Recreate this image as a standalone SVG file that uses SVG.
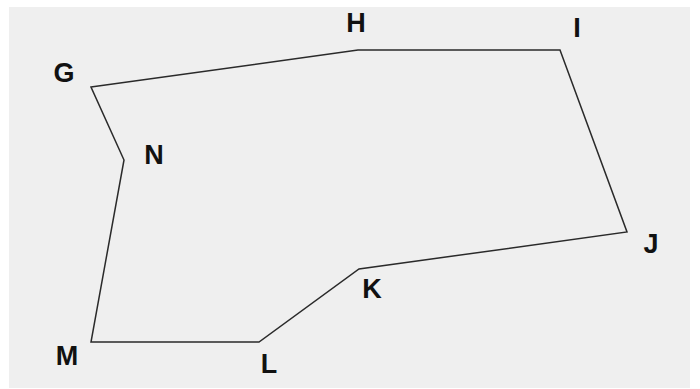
<svg xmlns="http://www.w3.org/2000/svg" width="700" height="389" viewBox="0 0 700 389">
<style>
.lbl{font-family:"Liberation Sans",Arial,sans-serif;font-weight:bold;font-size:27px;fill:#111;text-anchor:middle}
.edge{fill:none;stroke:#2a2a2a;stroke-width:1.5;stroke-linejoin:miter}
</style>
<rect x="0" y="0" width="700" height="389" fill="#ffffff"/>
<rect x="9" y="7" width="681" height="381" fill="#efefef"/>
<g id="connectors">
<polygon class="edge" points="91,87 358,50 560,50 627,232 359,269 259,342 91,342 124,160"/>
</g>
<g id="G"><text class="lbl" x="64" y="82">G</text></g>
<g id="H"><text class="lbl" x="356" y="32">H</text></g>
<g id="I"><text class="lbl" x="577" y="37">I</text></g>
<g id="J"><text class="lbl" x="651" y="253">J</text></g>
<g id="K"><text class="lbl" x="372" y="298">K</text></g>
<g id="L"><text class="lbl" x="269" y="373">L</text></g>
<g id="M"><text class="lbl" x="67" y="365">M</text></g>
<g id="N"><text class="lbl" x="154" y="164">N</text></g>
</svg>
